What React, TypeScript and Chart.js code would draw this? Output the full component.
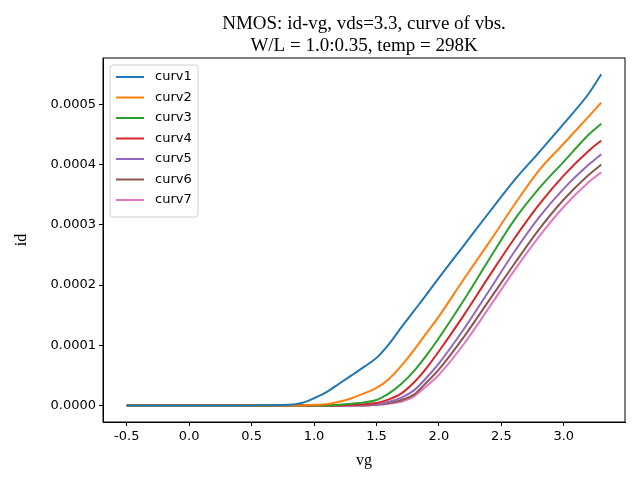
import { Chart, registerables } from "chart.js";
import { useEffect, useRef } from "react";

Chart.register(...registerables);

const vg = [-0.5, 0.0, 0.5, 0.8, 0.9, 1.0, 1.1, 1.2, 1.3, 1.4, 1.5, 1.6, 1.7, 1.8, 1.9, 2.0, 2.2, 2.4, 2.6, 2.8, 3.0, 3.2, 3.3];

// id values in units of 1e-4 A
const curv1 = [0, 0, 0, 0.01, 0.04, 0.12, 0.22, 0.36, 0.5, 0.64, 0.79, 1.02, 1.3, 1.57, 1.84, 2.12, 2.66, 3.2, 3.73, 4.2, 4.68, 5.18, 5.5];
const curv2 = [0, 0, 0, 0, 0, 0.01, 0.02, 0.06, 0.12, 0.2, 0.29, 0.44, 0.66, 0.92, 1.2, 1.48, 2.1, 2.7, 3.32, 3.9, 4.35, 4.8, 5.03];
const curv3 = [0, 0, 0, 0, 0, 0, 0, 0.01, 0.03, 0.05, 0.09, 0.2, 0.36, 0.57, 0.83, 1.12, 1.75, 2.42, 3.07, 3.6, 4.05, 4.5, 4.68];
const curv4 = [0, 0, 0, 0, 0, 0, 0, 0, 0.01, 0.02, 0.04, 0.1, 0.2, 0.38, 0.62, 0.9, 1.5, 2.14, 2.76, 3.33, 3.82, 4.23, 4.4];
const curv5 = [0, 0, 0, 0, 0, 0, 0, 0, 0, 0.01, 0.02, 0.06, 0.13, 0.25, 0.46, 0.7, 1.27, 1.9, 2.54, 3.12, 3.6, 4.0, 4.17];
const curv6 = [0, 0, 0, 0, 0, 0, 0, 0, 0, 0, 0.01, 0.04, 0.09, 0.18, 0.38, 0.6, 1.14, 1.74, 2.34, 2.92, 3.42, 3.83, 4.0];
const curv7 = [0, 0, 0, 0, 0, 0, 0, 0, 0, 0, 0.01, 0.03, 0.06, 0.15, 0.32, 0.51, 1.02, 1.62, 2.23, 2.8, 3.3, 3.71, 3.87];

const seriesNames = ["curv1", "curv2", "curv3", "curv4", "curv5", "curv6", "curv7"];
const seriesValues = [curv1, curv2, curv3, curv4, curv5, curv6, curv7];
const colors = ["#1f77b4", "#ff7f0e", "#2ca02c", "#d62728", "#9467bd", "#8c564b", "#e377c2"];
const xTicks = [-0.5, 0.0, 0.5, 1.0, 1.5, 2.0, 2.5, 3.0];

const sans = "'DejaVu Sans', sans-serif";
const serif = "'Liberation Serif', 'Times New Roman', serif";

const framePlugin = {
  id: "frame",
  afterDraw(chart: any) {
    const { ctx, chartArea: a } = chart;
    ctx.save();
    ctx.strokeStyle = "#000";
    ctx.lineWidth = 1;
    ctx.strokeRect(a.left, a.top, a.right - a.left, a.bottom - a.top);
    // title
    ctx.fillStyle = "#000";
    ctx.font = `19px ${serif}`;
    ctx.textAlign = "center";
    ctx.textBaseline = "alphabetic";
    const cx = (a.left + a.right) / 2;
    ctx.fillText("NMOS: id-vg, vds=3.3, curve of vbs.", cx, 29);
    ctx.fillText("W/L = 1.0:0.35, temp = 298K", cx, 51);
    // legend
    const x0 = a.left + 7, y0 = a.top + 7;
    ctx.strokeStyle = "#d0d0d0";
    ctx.fillStyle = "rgba(255,255,255,0.8)";
    ctx.beginPath();
    ctx.roundRect(x0, y0, 88, 152, 3);
    ctx.fill();
    ctx.stroke();
    ctx.font = `13px ${sans}`;
    ctx.textAlign = "left";
    ctx.textBaseline = "middle";
    chart.data.datasets.forEach((ds: any, i: number) => {
      const y = y0 + 12 + i * 20.5;
      ctx.strokeStyle = ds.borderColor;
      ctx.lineWidth = 2;
      ctx.beginPath();
      ctx.moveTo(x0 + 6, y);
      ctx.lineTo(x0 + 34, y);
      ctx.stroke();
      ctx.fillStyle = "#000";
      ctx.fillText(ds.label, x0 + 45, y);
    });
    ctx.restore();
  },
};

export default function App() {
  const canvasRef = useRef<HTMLCanvasElement | null>(null);
  const chartRef = useRef<Chart | null>(null);

  useEffect(() => {
    document.body.style.margin = "0";
    if (chartRef.current) chartRef.current.destroy();
    const ctx = canvasRef.current?.getContext("2d");
    if (!ctx) return;
    chartRef.current = new Chart(ctx, {
      type: "line",
      data: {
        datasets: seriesNames.map((name, i) => ({
          label: name,
          data: vg.map((x, j) => ({ x, y: seriesValues[i][j] * 1e-4 })),
          borderColor: colors[i],
          backgroundColor: colors[i],
          borderWidth: 2,
          pointRadius: 0,
          cubicInterpolationMode: "monotone" as const,
        })),
      },
      options: {
        animation: false,
        responsive: false,
        layout: { padding: { left: 0, right: 15, top: 58, bottom: 0 } },
        plugins: { legend: { display: false }, title: { display: false }, tooltip: { enabled: false } },
        scales: {
          x: {
            type: "linear",
            min: -0.69,
            max: 3.49,
            afterBuildTicks: (s: any) => { s.ticks = xTicks.map((v) => ({ value: v })); },
            afterFit: (s: any) => { s.height = 58; },
            ticks: { color: "#000", font: { family: sans, size: 13 }, padding: 3, callback: (v: any) => Number(v).toFixed(1) },
            grid: { drawOnChartArea: false, color: "#000", tickLength: 4 },
            border: { color: "#000" },
            title: { display: true, text: "vg", color: "#000", font: { family: serif, size: 16 }, padding: { top: 0, bottom: 10 } },
          },
          y: {
            type: "linear",
            min: -0.0000275,
            max: 0.000577,
            afterBuildTicks: (s: any) => { s.ticks = [0, 1, 2, 3, 4, 5].map((v) => ({ value: v * 1e-4 })); },
            afterFit: (s: any) => { s.width = 103; },
            ticks: { color: "#000", font: { family: sans, size: 13 }, padding: 3, callback: (v: any) => Number(v).toFixed(4) },
            grid: { drawOnChartArea: false, color: "#000", tickLength: 4 },
            border: { color: "#000" },
            title: { display: true, text: "id", color: "#000", font: { family: serif, size: 16 }, padding: { top: 12, bottom: 4 } },
          },
        },
      },
      plugins: [framePlugin],
    });
    return () => {
      chartRef.current?.destroy();
      chartRef.current = null;
    };
  }, []);

  return <canvas ref={canvasRef} width={640} height={480} style={{ width: "640px", height: "480px", display: "block" }} />;
}
